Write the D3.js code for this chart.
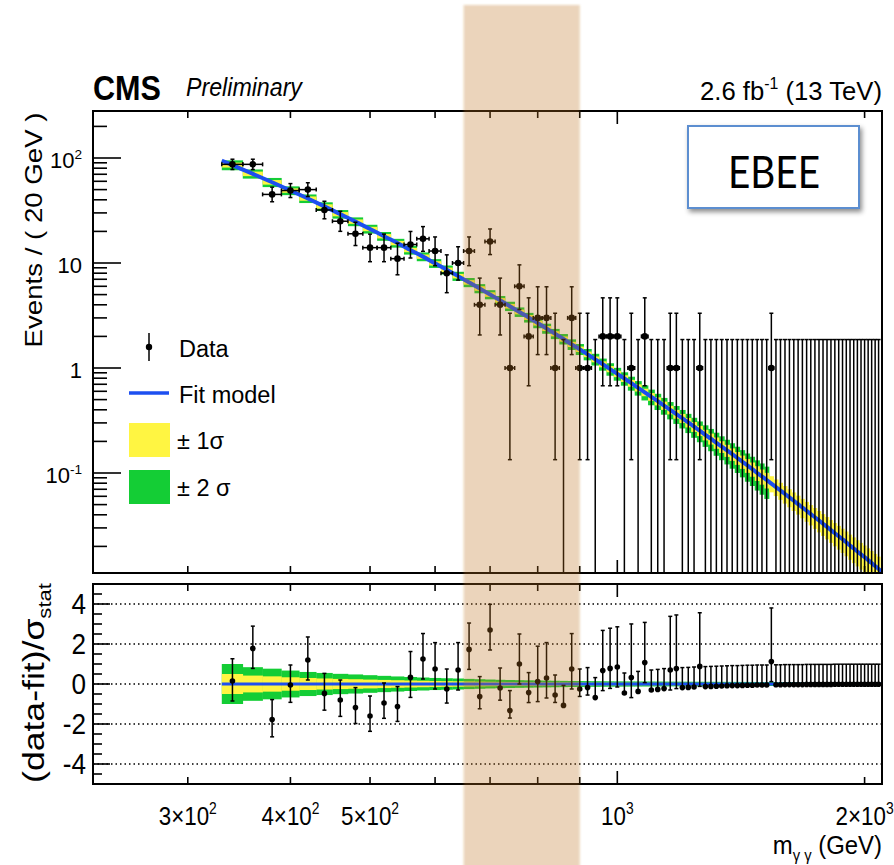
<!DOCTYPE html>
<html>
<head>
<meta charset="utf-8">
<script src="https://cdn.jsdelivr.net/npm/d3@7"></script>
<style>
  body { margin: 0; background: #fff; }
  svg { display: block; }
  text { font-family: "Liberation Sans", Arial, Helvetica, sans-serif; fill: #000; }
</style>
</head>
<body>
<div id="chart"></div>
<script>
// 20 GeV bins, centres from 340 GeV
const massBins = d3.range(340, 2100, 20);

const counts = [
  87, 87, 45, 49, 50, 32, 25, 19, 14, 14,
  11, 15, 17, 13, 8, 10, 13, 4, 16, 4,
  1, 6, 2, 3, 3, 1, 0, 3, 1, 1,
  0, 2, 2, 2, 0, 1, 0, 2, 0, 0,
  0, 1, 1, 0, 0, 0, 1, 0, 0, 0,
  0, 0, 0, 0, 0, 0, 0, 0, 0, 0,
  1, 0, 0, 0, 0, 0, 0, 0, 0, 0,
  0, 0, 0, 0, 0, 0, 0, 0, 0, 0,
  0, 0, 0, 0, 0, 0, 0, 0
];

// (data - fit) / sigma_stat per bin
const pulls = [
  0.15, 1.78, -1.78, -0.05, 1.2, -0.47, -0.8, -1.18, -1.6, -0.95,
  -1.13, 0.33, 1.25, 0.75, -0.25, 0.7, 1.73, -0.63, 2.7, -0.2,
  -1.33, 1.0, -0.43, 0.12, 0.3, -0.55, -1.07, 0.75, -0.25, -0.18,
  -0.68, 0.67, 0.78, 0.85, -0.45, 0.32, -0.37, 1.07, -0.3, -0.27,
  -0.23, 0.7, 0.77, -0.18, -0.17, -0.15, 0.88, -0.13, -0.12, -0.11,
  -0.1, -0.09, -0.08, -0.08, -0.07, -0.06, -0.06, -0.05, -0.05, -0.05,
  1.12, -0.04, -0.04, -0.03, -0.03, -0.03, -0.03, -0.03, -0.02, -0.02,
  -0.02, -0.02, -0.02, -0.02, -0.02, -0.01, -0.01, -0.01, -0.01, -0.01,
  -0.01, -0.01, -0.01, -0.01, -0.01, -0.01, -0.01, -0.01
];

// fit model at each bin centre (events / 20 GeV)
const fitValues = [
  85.7, 70.7, 58.7, 49.0, 41.1, 34.6, 29.2, 24.8, 21.1, 18.0,
  15.5, 13.3, 11.5, 9.93, 8.62, 7.50, 6.54, 5.72, 5.01, 4.41,
  3.88, 3.42, 3.03, 2.68, 2.38, 2.12, 1.89, 1.68, 1.51, 1.35,
  1.21, 1.086, 0.977, 0.880, 0.794, 0.717, 0.648, 0.587, 0.532, 0.483,
  0.439, 0.399, 0.364, 0.332, 0.303, 0.276, 0.253, 0.231, 0.212, 0.194,
  0.178, 0.164, 0.151, 0.139, 0.128, 0.118, 0.109, 0.100, 0.0927, 0.0858,
  0.0793, 0.0735, 0.0681, 0.0631, 0.0586, 0.0544, 0.0505, 0.0469, 0.0437, 0.0406,
  0.0379, 0.0353, 0.0329, 0.0307, 0.0286, 0.0267, 0.0250, 0.0234, 0.0219, 0.0204,
  0.0191, 0.0179, 0.0168, 0.0158, 0.0148, 0.0139, 0.0130, 0.0122
];
// fit model at the ends of the fit range
const fitRangeEnds = [[330, 94.4], [2100, 0.0115]];

// relative 1 sigma uncertainty of the fit per bin
const fitRelErr = [
  0.054, 0.05, 0.05, 0.048, 0.047, 0.047, 0.047, 0.048, 0.048, 0.048,
  0.048, 0.048, 0.048, 0.048, 0.049, 0.05, 0.05, 0.05, 0.05, 0.05,
  0.051, 0.052, 0.053, 0.054, 0.055, 0.056, 0.057, 0.058, 0.06, 0.062,
  0.064, 0.066, 0.068, 0.07, 0.073, 0.076, 0.079, 0.082, 0.085, 0.088,
  0.091, 0.094, 0.097, 0.1, 0.104, 0.108, 0.112, 0.116, 0.12, 0.124,
  0.128, 0.132, 0.136, 0.14, 0.145, 0.15, 0.155, 0.16, 0.165, 0.17,
  0.175, 0.18, 0.185, 0.19, 0.195, 0.2, 0.205, 0.21, 0.215, 0.22,
  0.225, 0.23, 0.235, 0.24, 0.245, 0.25, 0.255, 0.26, 0.265, 0.27,
  0.275, 0.28, 0.285, 0.29, 0.295, 0.3, 0.305, 0.31
];
const twoSigmaMaxMass = 1520;

const highlightRange = [650, 900];

const xTicks = [300, 400, 500, 600, 700, 800, 900, 1000, 2000];
const xTickLabels = [
  { v: 300, base: "3×10", exp: "2" },
  { v: 400, base: "4×10", exp: "2" },
  { v: 500, base: "5×10", exp: "2" },
  { v: 1000, base: "10", exp: "3" },
  { v: 2000, base: "2×10", exp: "3" }
];
const yTickLabels = [
  { v: 0.1, base: "10", exp: "-1" },
  { v: 1, base: "1" },
  { v: 10, base: "10" },
  { v: 100, base: "10", exp: "2" }
];
const pullTickLabels = [4, 2, 0, -2, -4];
const pullGrid = [-4, -2, 0, 2, 4];

const colors = {
  yellow: "#fff542",
  green: "#14cd35",
  blue: "#1d4ff0",
  shade: "rgb(190,112,25)"
};

const width = 894, height = 865;
const upper = { x0: 93, x1: 882, y0: 111, y1: 573 };
const lower = { x0: 93, x1: 882, y0: 584, y1: 784 };

const x = d3.scaleLog().domain([230, 2100]).range([upper.x0, upper.x1]);
const y = d3.scaleLog().domain([0.01116, 280.3]).range([upper.y1, upper.y0]);
const yp = d3.scaleLinear().domain([-5, 5]).range([lower.y1, lower.y0]);

// approximate Poisson (Garwood) intervals
const errLo = n => n > 0 ? Math.sqrt(n - 0.25) : 0;
const errHi = n => Math.sqrt(n + 0.75) + 1;

const svg = d3.select("#chart").append("svg")
  .attr("width", width)
  .attr("height", height);

const defs = svg.append("defs");
defs.append("clipPath").attr("id", "clip-upper").append("rect")
  .attr("x", upper.x0).attr("y", upper.y0)
  .attr("width", upper.x1 - upper.x0).attr("height", upper.y1 - upper.y0);
defs.append("clipPath").attr("id", "clip-lower").append("rect")
  .attr("x", lower.x0).attr("y", lower.y0)
  .attr("width", lower.x1 - lower.x0).attr("height", lower.y1 - lower.y0);
defs.append("filter").attr("id", "shadow")
  .attr("x", "-20%").attr("y", "-20%").attr("width", "150%").attr("height", "160%")
  .append("feDropShadow")
  .attr("dx", 2).attr("dy", 3).attr("stdDeviation", 2.5)
  .attr("flood-color", "#000").attr("flood-opacity", 0.45);
defs.append("filter").attr("id", "soft")
  .append("feGaussianBlur").attr("stdDeviation", 1.2);

// text with optional super/subscripts; parts are strings or [str, "sup"|"sub"].
// opts.length or opts.squeeze stretch the run along its baseline.
function richText(sel, px, py, parts, size, opts = {}) {
  const t = sel.append("text")
    .attr("x", 0).attr("y", 0)
    .attr("font-size", size)
    .attr("text-anchor", opts.anchor || "start");
  if (opts.weight) t.attr("font-weight", opts.weight);
  if (opts.italic) t.attr("font-style", "italic");
  if (opts.family) t.style("font-family", opts.family);
  let shift = 0;
  parts.forEach(p => {
    const [str, kind] = Array.isArray(p) ? p : [p, null];
    const target = kind === "sup" ? -0.42 * size : kind === "sub" ? 0.25 * size : 0;
    t.append("tspan")
      .attr("dy", target - shift)
      .attr("font-size", kind ? size * 0.62 : size)
      .text(str);
    shift = target;
  });
  let sx = opts.squeeze || 1;
  if (opts.length) sx = opts.length / t.node().getComputedTextLength();
  t.attr("transform", `translate(${px},${py})${opts.rotate ? " rotate(-90)" : ""} scale(${sx},1)`);
  return t;
}

const bins = massBins.map((m, i) => ({
  m, n: counts[i], pull: pulls[i], fit: fitValues[i], rel: fitRelErr[i]
}));

// ---------- upper panel ----------
const gUp = svg.append("g").attr("clip-path", "url(#clip-upper)");

gUp.append("g").selectAll("rect")
  .data(bins.filter(d => d.m <= twoSigmaMaxMass))
  .join("rect")
  .attr("x", d => x(d.m - 10))
  .attr("width", d => x(d.m + 10) - x(d.m - 10) + 0.3)
  .attr("y", d => y(d.fit * (1 + 2 * d.rel)))
  .attr("height", d => y(d.fit * (1 - 2 * d.rel)) - y(d.fit * (1 + 2 * d.rel)))
  .attr("fill", colors.green);

gUp.append("g").selectAll("rect")
  .data(bins)
  .join("rect")
  .attr("x", d => x(d.m - 10))
  .attr("width", d => x(d.m + 10) - x(d.m - 10) + 0.3)
  .attr("y", d => y(d.fit * (1 + d.rel)))
  .attr("height", d => y(d.fit * (1 - d.rel)) - y(d.fit * (1 + d.rel)))
  .attr("fill", colors.yellow);

const fitLine = [fitRangeEnds[0], ...bins.map(d => [d.m, d.fit]), fitRangeEnds[1]];
gUp.append("path")
  .datum(fitLine)
  .attr("fill", "none")
  .attr("stroke", colors.blue)
  .attr("stroke-width", 4)
  .attr("d", d3.line().x(d => x(d[0])).y(d => y(d[1])).curve(d3.curveMonotoneX));

const yMin = y.domain()[0];
const pts = gUp.append("g").attr("stroke", "#000").attr("stroke-width", 1.5);
bins.forEach(d => {
  const cx = x(d.m);
  const yHi = y(d.n + errHi(d.n));
  const yLo = d.n > 0 ? y(d.n - errLo(d.n)) : y(yMin) + 5;
  pts.append("line").attr("x1", cx).attr("x2", cx).attr("y1", yHi).attr("y2", yLo);
  pts.append("line").attr("x1", cx - 2).attr("x2", cx + 2).attr("y1", yHi).attr("y2", yHi);
  if (d.n > 0) {
    const cy = y(d.n);
    const xl = x(d.m - 10), xr = x(d.m + 10);
    pts.append("line").attr("x1", cx - 2).attr("x2", cx + 2).attr("y1", yLo).attr("y2", yLo);
    pts.append("line").attr("x1", xl).attr("x2", xr).attr("y1", cy).attr("y2", cy);
    pts.append("line").attr("x1", xl).attr("x2", xl).attr("y1", cy - 2).attr("y2", cy + 2);
    pts.append("line").attr("x1", xr).attr("x2", xr).attr("y1", cy - 2).attr("y2", cy + 2);
    pts.append("circle").attr("cx", cx).attr("cy", cy).attr("r", 3.3)
      .attr("fill", "#000").attr("stroke", "none");
  }
});

// ---------- lower panel ----------
const gLow = svg.append("g").attr("clip-path", "url(#clip-lower)");

gLow.append("g").selectAll("line")
  .data(pullGrid)
  .join("line")
  .attr("x1", lower.x0).attr("x2", lower.x1)
  .attr("y1", d => yp(d)).attr("y2", d => yp(d))
  .attr("stroke", "#000").attr("stroke-width", 1.4)
  .attr("stroke-dasharray", "1.5,3");

const bandPull = d => d.rel * Math.sqrt(d.fit);
gLow.append("g").selectAll("rect")
  .data(bins)
  .join("rect")
  .attr("x", d => x(d.m - 10))
  .attr("width", d => x(d.m + 10) - x(d.m - 10) + 0.3)
  .attr("y", d => yp(2 * bandPull(d)))
  .attr("height", d => yp(-2 * bandPull(d)) - yp(2 * bandPull(d)))
  .attr("fill", colors.green);
gLow.append("g").selectAll("rect")
  .data(bins)
  .join("rect")
  .attr("x", d => x(d.m - 10))
  .attr("width", d => x(d.m + 10) - x(d.m - 10) + 0.3)
  .attr("y", d => yp(bandPull(d)))
  .attr("height", d => yp(-bandPull(d)) - yp(bandPull(d)))
  .attr("fill", colors.yellow);

gLow.append("line")
  .attr("x1", x(fitRangeEnds[0][0])).attr("x2", x(fitRangeEnds[1][0]))
  .attr("y1", yp(0)).attr("y2", yp(0))
  .attr("stroke", colors.blue).attr("stroke-width", 3);

const pp = gLow.append("g").attr("stroke", "#000").attr("stroke-width", 1.5);
bins.forEach(d => {
  const cx = x(d.m);
  const lo = d.pull > 0 ? d.pull - 1 : d.pull - errLo(d.n) / errHi(d.n);
  const hi = d.pull > 0 ? d.pull + errHi(d.n) / errLo(d.n) : d.pull + 1;
  pp.append("line").attr("x1", cx).attr("x2", cx).attr("y1", yp(hi)).attr("y2", yp(lo));
  pp.append("line").attr("x1", cx - 2).attr("x2", cx + 2).attr("y1", yp(hi)).attr("y2", yp(hi));
  pp.append("line").attr("x1", cx - 2).attr("x2", cx + 2).attr("y1", yp(lo)).attr("y2", yp(lo));
  pp.append("circle").attr("cx", cx).attr("cy", yp(d.pull)).attr("r", 2.8)
    .attr("fill", "#000").attr("stroke", "none");
});

// ---------- axes and frames ----------
const axes = svg.append("g").attr("stroke", "#000").attr("stroke-width", 1.6);

function xTickMarks(yEdge, dir) {
  xTicks.forEach(v => {
    const len = v === 1000 ? 13 : 7;
    axes.append("line")
      .attr("x1", x(v)).attr("x2", x(v))
      .attr("y1", yEdge).attr("y2", yEdge + dir * len);
  });
}
xTickMarks(upper.y0, 1);
xTickMarks(upper.y1, -1);
xTickMarks(lower.y0, 1);
xTickMarks(lower.y1, -1);

d3.range(-2, 3).forEach(e => {
  d3.range(1, 10).forEach(k => {
    const v = k * Math.pow(10, e);
    if (v < y.domain()[0] || v > y.domain()[1]) return;
    axes.append("line")
      .attr("x1", upper.x0).attr("x2", upper.x0 + (k === 1 ? 28 : 14))
      .attr("y1", y(v)).attr("y2", y(v));
  });
});

d3.range(-4.5, 5, 0.5).forEach(v => {
  axes.append("line")
    .attr("x1", lower.x0).attr("x2", lower.x0 + (v % 2 === 0 ? 17 : 9))
    .attr("y1", yp(v)).attr("y2", yp(v));
});

[upper, lower].forEach(p => {
  svg.append("rect")
    .attr("x", p.x0).attr("y", p.y0)
    .attr("width", p.x1 - p.x0).attr("height", p.y1 - p.y0)
    .attr("fill", "none").attr("stroke", "#000").attr("stroke-width", 2);
});

// tick labels
const labels = svg.append("g");
yTickLabels.forEach(t => {
  const parts = t.exp ? [t.base, [t.exp, "sup"]] : [t.base];
  richText(labels, 82, y(t.v) + 10, parts, 22, { anchor: "end" });
});
pullTickLabels.forEach(v => {
  richText(labels, 86, yp(v) + 10, [String(v)], 29, { anchor: "end", squeeze: 0.9 });
});
xTickLabels.forEach(t => {
  richText(labels, x(t.v), 825, [t.base, [t.exp, "sup"]], 26, { anchor: "middle", squeeze: 0.86 });
});

// titles
richText(labels, 882, 854, ["m", ["γ γ", "sub"], " (GeV)"], 26, { anchor: "end", squeeze: 0.92 });
richText(labels, 42, 230, ["Events / ( 20 GeV )"], 23, { anchor: "middle", rotate: true, length: 235 });
richText(labels, 44, 683, ["(data-fit)/σ", ["stat", "sub"]], 29, { anchor: "middle", rotate: true, length: 200 });

richText(labels, 93, 100, ["CMS"], 35, { weight: "bold", length: 68 });
richText(labels, 186, 96, ["Preliminary"], 26, { italic: true, length: 116 });
richText(labels, 882, 100, ["2.6 fb", ["-1", "sup"], " (13 TeV)"], 26, { anchor: "end", length: 182 });

// category box
svg.append("rect")
  .attr("x", 688).attr("y", 126).attr("width", 171).attr("height", 82)
  .attr("fill", "#fff").attr("stroke", "#5b8ed0").attr("stroke-width", 2)
  .attr("filter", "url(#shadow)");
richText(svg, 774, 188, ["EBEE"], 44, { anchor: "middle", family: "Lato, 'Open Sans', sans-serif", length: 92 });

// legend
const leg = svg.append("g");
leg.append("line").attr("x1", 149).attr("x2", 149).attr("y1", 333).attr("y2", 361)
  .attr("stroke", "#000").attr("stroke-width", 1.5);
leg.append("circle").attr("cx", 149).attr("cy", 347).attr("r", 3.2).attr("fill", "#000");
richText(leg, 179, 357, ["Data"], 23.5);
leg.append("line").attr("x1", 129).attr("x2", 169).attr("y1", 393).attr("y2", 393)
  .attr("stroke", colors.blue).attr("stroke-width", 3.5);
richText(leg, 179, 403, ["Fit model"], 23.5);
leg.append("rect").attr("x", 129).attr("y", 423).attr("width", 41).attr("height", 34)
  .attr("fill", colors.yellow);
richText(leg, 177, 449, ["± 1σ"], 23.5);
leg.append("rect").attr("x", 129).attr("y", 470).attr("width", 41).attr("height", 34)
  .attr("fill", colors.green);
richText(leg, 177, 496, ["± 2 σ"], 23.5);

// highlighted mass window over everything
svg.append("rect")
  .attr("x", x(highlightRange[0]))
  .attr("width", x(highlightRange[1]) - x(highlightRange[0]))
  .attr("y", 5).attr("height", height)
  .attr("fill", colors.shade).attr("fill-opacity", 0.3)
  .attr("filter", "url(#soft)");
</script>
</body>
</html>
